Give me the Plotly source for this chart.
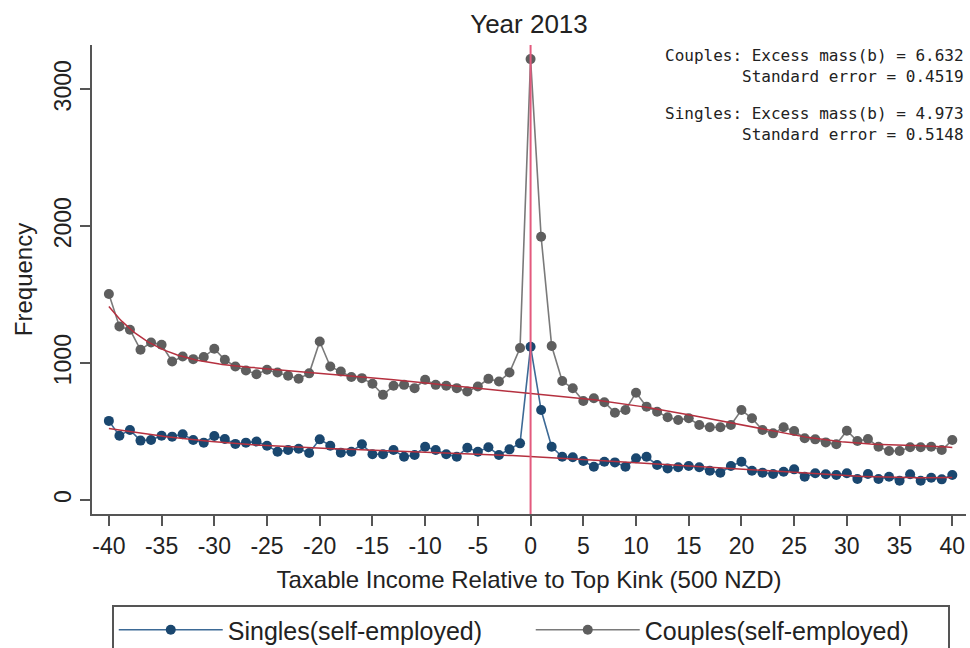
import numpy as np
import plotly.graph_objects as go

# Income bins relative to the top kink (units of 500 NZD)
bins = list(range(-40, 41))
tick_values = list(range(-40, 41, 5))
tick_labels = [str(v) for v in tick_values]

couples = [1505, 1268, 1244, 1097, 1151, 1134, 1012, 1048, 1029, 1044,
           1105, 1024, 975, 946, 919, 951, 931, 907, 886, 925,
           1158, 975, 939, 898, 890, 849, 768, 834, 841, 817,
           878, 841, 834, 817, 792, 829, 885, 865, 931, 1110,
           3220,
           1923, 1125, 869, 816, 723, 743, 714, 638, 657, 784,
           682, 645, 604, 584, 597, 548, 531, 531, 548, 657,
           597, 511, 487, 531, 504, 451, 443, 421, 407, 506,
           431, 446, 389, 358, 358, 385, 385, 389, 365, 438]

singles = [578, 470, 512, 434, 439, 470, 463, 480, 439, 419,
           468, 446, 410, 419, 427, 397, 353, 366, 375, 344,
           443, 397, 346, 353, 407, 334, 334, 365, 316, 329,
           389, 365, 334, 316, 382, 353, 385, 329, 370, 414,
           1120,
           657, 389, 316, 312, 285, 243, 280, 275, 243, 305,
           316, 256, 231, 239, 248, 239, 214, 199, 248, 280,
           214, 200, 190, 207, 224, 170, 195, 188, 183, 195,
           153, 190, 153, 170, 141, 188, 141, 163, 151, 183]

couples_note = ["Couples: Excess mass(b) = 6.632", "Standard error = 0.4519"]
singles_note = ["Singles: Excess mass(b) = 4.973", "Standard error = 0.5148"]

# Counterfactual density: polynomial fit excluding the bunching window
FIT_DEGREE = 7
EXCLUDED = (-2, 2)


def counterfactual(x, y):
    x = np.asarray(x, float)
    y = np.asarray(y, float)
    keep = (x < EXCLUDED[0]) | (x > EXCLUDED[1])
    coef = np.polyfit(x[keep], y[keep], FIT_DEGREE)
    grid = np.linspace(x.min(), x.max(), 321)
    return grid, np.polyval(coef, grid)


NAVY = "#1a476f"
GRAY = "#5e5e5e"
FIT = "#b5303f"
KINK = "#e35a7e"
AXIS = "#555555"
TEXT = "#222222"
FONT = "Liberation Sans, Arial, sans-serif"
NOTE_FONT = "DejaVu Sans Mono, monospace"

# plot-area geometry (px)
TOP, BOTTOM = 45, 514
PLOT_H = BOTTOM - TOP

fig = go.Figure()

fig.add_trace(go.Scatter(
    x=bins, y=singles, mode="lines+markers", name="Singles(self-employed)",
    line=dict(color="#3d6a96", width=1.6),
    marker=dict(color=NAVY, size=10)))
fig.add_trace(go.Scatter(
    x=bins, y=couples, mode="lines+markers", name="Couples(self-employed)",
    line=dict(color="#7a7a7a", width=1.6),
    marker=dict(color=GRAY, size=10)))

for series in (singles, couples):
    gx, gy = counterfactual(bins, series)
    fig.add_trace(go.Scatter(x=gx, y=gy, mode="lines", showlegend=False,
                             hoverinfo="skip",
                             line=dict(color=FIT, width=1.5)))

# Top kink
fig.add_shape(type="line", xref="x", yref="paper", x0=0, x1=0, y0=0, y1=1,
              line=dict(color=KINK, width=2), layer="above")

# Bunching estimates, one block per group
for lines, py in ((couples_note, 66), (singles_note, 124)):
    fig.add_annotation(text="<br>".join(lines), align="right",
                       xref="paper", yref="paper",
                       x=1.0, xanchor="right",
                       y=(BOTTOM - py) / PLOT_H, yanchor="middle",
                       showarrow=False,
                       font=dict(family=NOTE_FONT, size=16, color=TEXT))

fig.update_layout(
    width=970, height=648,
    margin=dict(l=92, r=4, t=TOP, b=648 - BOTTOM, autoexpand=False),
    paper_bgcolor="white", plot_bgcolor="white",
    font=dict(family=FONT, color=TEXT),
    title=dict(text="Year 2013", x=0.5, xanchor="center",
               xref="paper", y=1 - 24 / 648, yanchor="middle",
               font=dict(size=26)),
    legend=dict(orientation="h", x=0.502, xanchor="center",
                y=(BOTTOM - 605) / PLOT_H, yanchor="top",
                bgcolor="white", bordercolor="#555555", borderwidth=2,
                font=dict(size=25, color=TEXT),
                itemwidth=104, entrywidth=298),
    showlegend=True,
)

fig.update_xaxes(
    range=[-41.6, 41.3], tickvals=tick_values, ticktext=tick_labels,
    ticks="outside", ticklen=10, tickwidth=2, tickcolor=AXIS,
    showline=True, linecolor=AXIS, linewidth=2,
    showgrid=False, zeroline=False,
    tickfont=dict(size=23, color=TEXT),
    title=dict(text="Taxable Income Relative to Top Kink (500 NZD)",
               font=dict(size=24), standoff=14))

fig.update_yaxes(
    range=[-102, 3323], tickvals=[0, 1000, 2000, 3000],
    ticks="outside", ticklen=10, tickwidth=2, tickcolor=AXIS,
    showline=True, linecolor=AXIS, linewidth=2,
    showgrid=False, zeroline=False, tickangle=-90,
    tickfont=dict(size=23, color=TEXT),
    title=dict(text="Frequency", font=dict(size=24), standoff=10))

fig.write_html("out.html")
